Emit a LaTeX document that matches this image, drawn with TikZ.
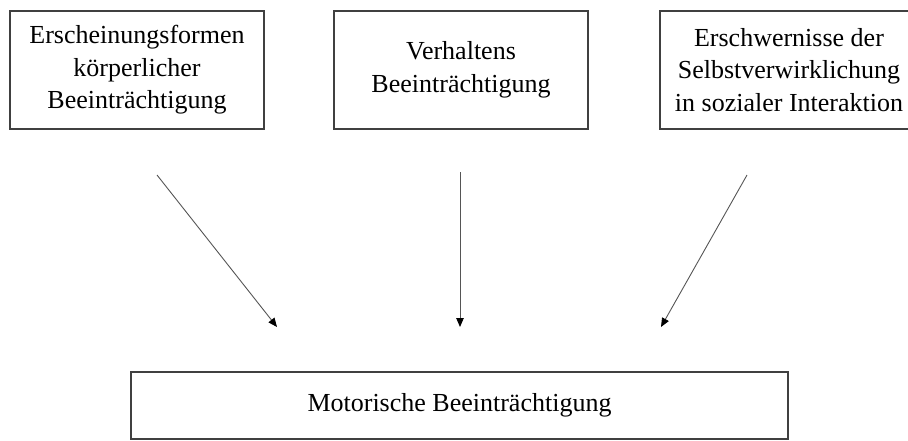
\documentclass[tikz,border=0pt]{standalone}
\usepackage{fontspec}
\setmainfont{Liberation Serif}
\usetikzlibrary{arrows.meta}
\definecolor{boxline}{HTML}{404040}
\definecolor{arrline}{HTML}{555555}
\tikzset{
  topbox/.style={draw=boxline, line width=1.6pt, minimum width=254pt, minimum height=118pt,
    align=center, inner sep=0pt, font=\fontsize{26}{32.5}\selectfont},
  bottombox/.style={draw=boxline, line width=1.6pt, minimum width=657pt, minimum height=67pt,
    align=center, inner sep=0pt, font=\fontsize{26}{32.5}\selectfont},
  conn/.style={draw=arrline, line width=0.9pt, -{Triangle[length=9pt,width=7.5pt,color=black]}}
}
\begin{document}
\begin{tikzpicture}[x=1pt,y=-1pt]
\useasboundingbox (0,0) rectangle (908,440);
\clip (0,0) rectangle (908,440);
\node[topbox] (b1) at (137,70) {Erscheinungsformen\\körperlicher\\Beeinträchtigung};
\node[topbox] (b2) at (461,70) {Verhaltens\\Beeinträchtigung};
\node[topbox, minimum width=258pt] (b3) at (789,70) {Erschwernisse der\\Selbstverwirklichung\\in sozialer Interaktion};
\node[bottombox] (m) at (459.5,405.5) {Motorische Beeinträchtigung};
\coordinate (s1) at (157,175);
\coordinate (e1) at (277,327);
\coordinate (s2) at (460,172);
\coordinate (e2) at (460,327);
\coordinate (s3) at (747,175);
\coordinate (e3) at (661,327);
\draw[conn] (s1) -- (e1);
\draw[conn] (s2) -- (e2);
\draw[conn] (s3) -- (e3);
\end{tikzpicture}
\end{document}
